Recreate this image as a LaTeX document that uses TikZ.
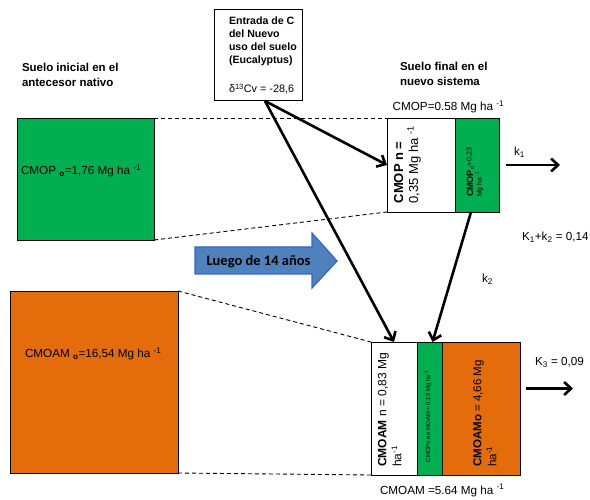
\documentclass[tikz,border=0pt]{standalone}
\usepackage{fontspec}
\setmainfont{Liberation Sans}
\newfontfamily\calibrifont{Carlito}
\usetikzlibrary{arrows.meta,calc}
\definecolor{cgreen}{RGB}{0,176,80}
\definecolor{corange}{RGB}{228,108,10}
\definecolor{cblue}{RGB}{79,129,189}
\definecolor{cblueedge}{RGB}{50,100,215}
\newcommand{\fsz}[2]{\fontsize{#1}{#2}\selectfont}
\begin{document}
\begin{tikzpicture}[x=1pt,y=-1pt,
  rbox/.style={draw=black,line width=0.9pt,inner sep=0pt,outer sep=0pt,anchor=north west},
  dashln/.style={draw=black,line width=0.9pt,dash pattern=on 4pt off 3pt},
  arr/.style={draw=black,line width=2.6pt,-{Straight Barb[length=7pt,width=13pt]}},
  txt/.style={inner sep=0pt,outer sep=0pt,anchor=base west,font=\fsz{11.7}{14}},
  head/.style={inner sep=0pt,outer sep=0pt,anchor=north west,align=left,font=\bfseries\fsz{11.5}{15}},
  vtxt/.style={inner sep=0pt,outer sep=0pt,rotate=90,anchor=north west,align=left}
]
\fill[white] (0,0) rectangle (590,500);
\path[use as bounding box] (0,0) rectangle (590,500);

% boxes
\node[rbox,fill=cgreen,minimum width=137pt,minimum height=122pt] (gO) at (17,118) {};
\node[rbox,fill=corange,minimum width=168pt,minimum height=182pt] (oO) at (10,291) {};
\node[rbox,fill=white,minimum width=68pt,minimum height=94pt] (wU) at (387,118) {};
\node[rbox,fill=cgreen,minimum width=44pt,minimum height=94pt] (gU) at (455,118) {};
\node[rbox,fill=white,minimum width=46pt,minimum height=133pt] (wL) at (371,342) {};
\node[rbox,fill=cgreen,minimum width=25pt,minimum height=133pt] (gL) at (417,342) {};
\node[rbox,fill=corange,minimum width=78pt,minimum height=133pt] (oL) at (442,342) {};
\node[rbox,fill=white,minimum width=88pt,minimum height=91pt] (top) at (214,9) {};

% dashed projection lines
\draw[dashln] (gO.north east) -- (wU.north west);
\draw[dashln] (gO.south east) -- (wU.south west);
\draw[dashln] (oO.north east) -- (wL.north west);
\draw[dashln] (oO.south east) -- (wL.south west);

% headings
\node[head] (hL) at (22,63.6) {Suelo inicial en el\\antecesor nativo};
\node[head] (hR) at (400,62.6) {Suelo final en el\\nuevo sistema};
\node[head,font=\bfseries\fsz{10.6}{13}] (tT) at (229,17.2) {Entrada de C\\del Nuevo\\uso del suelo\\(Eucalyptus)};
\node[txt,font=\fsz{10.8}{13}] (tD) at (229,93) {δ\textsuperscript{13}Cv = -28,6};

% horizontal labels
\node[txt] (tgO) at (21,175) {CMOP \textsubscript{\textbf{o}}=1,76 Mg ha \textsuperscript{-1}};
\node[txt] (toO) at (25,357.7) {CMOAM \textsubscript{\textbf{o}}=16,54 Mg ha \textsuperscript{-1}};
\node[txt] (tU) at (392.7,110.7) {CMOP=0.58 Mg ha \textsuperscript{-1}};
\node[txt] (tL) at (380,494) {CMOAM =5.64 Mg ha \textsuperscript{-1}};
\node[txt] (tk1) at (514,156) {k\textsubscript{1}};
\node[txt] (tk12) at (522,241) {K\textsubscript{1}+k\textsubscript{2} = 0,14};
\node[txt] (tk2) at (482,283) {k\textsubscript{2}};
\node[txt] (tk3) at (535,366) {K\textsubscript{3} = 0,09};

% rotated labels
\node[vtxt,font=\fsz{13}{15}] (rwU) at (394,203.3) {\textbf{CMOP n =}\\0,35 Mg ha \textsuperscript{-1}};
\node[vtxt,font=\fsz{6.8}{8.6}] (rgU) at (466.6,197) {{\fsz{9}{8.6}\textbf{CMOP}\textsubscript{o}\raisebox{1.5pt}{\fsz{7.2}{8}=0,23}}\\Mg ha \textsuperscript{-1}};
\node[vtxt,font=\fsz{12}{15}] (rwL) at (378,466.7) {\textbf{CMOAM} n = 0,83 Mg\\ha\textsuperscript{-1}};
\node[vtxt,font=\fsz{11.5}{15}] (roL) at (473.4,466.7) {\textbf{CMOAMo} = 4,66 Mg\\ha\textsuperscript{-1}};
\node[inner sep=0pt,outer sep=0pt,rotate=90,anchor=base west,font=\fsz{6}{7}] (rgL) at (430,462) {CMOPo en MOAM = 0,15 Mg ha\textsuperscript{-1}};

% blue block arrow
\draw[draw=cblueedge,fill=cblue,line width=1.2pt] (195,247) -- (312,247) -- (312,233) -- (337,261) -- (312,288) -- (312,274) -- (195,274) -- cycle;
\node[font=\calibrifont\bfseries\fsz{14.5}{16},inner sep=0pt] (luego) at (258.5,261.5) {Luego de 14 años};

% flow arrows
\coordinate (src) at ($(top.south)+(7,1)$);
\draw[arr] (src) -- (wU.west);
\draw[arr] (src) -- (wL.north);
\draw[arr] ($(gU.south)+(-6,0)$) -- ($(gL.north)+(3,0)$);
\coordinate (k1s) at ($(gU.east)+(7,0)$);
\coordinate (k1e) at ($(gU.east)+(61,0)$);
\draw[arr] (k1s) -- (k1e);
\coordinate (k3s) at (526,388.5);
\coordinate (k3e) at (573,388.5);
\draw[arr] (k3s) -- (k3e);
\end{tikzpicture}
\end{document}
